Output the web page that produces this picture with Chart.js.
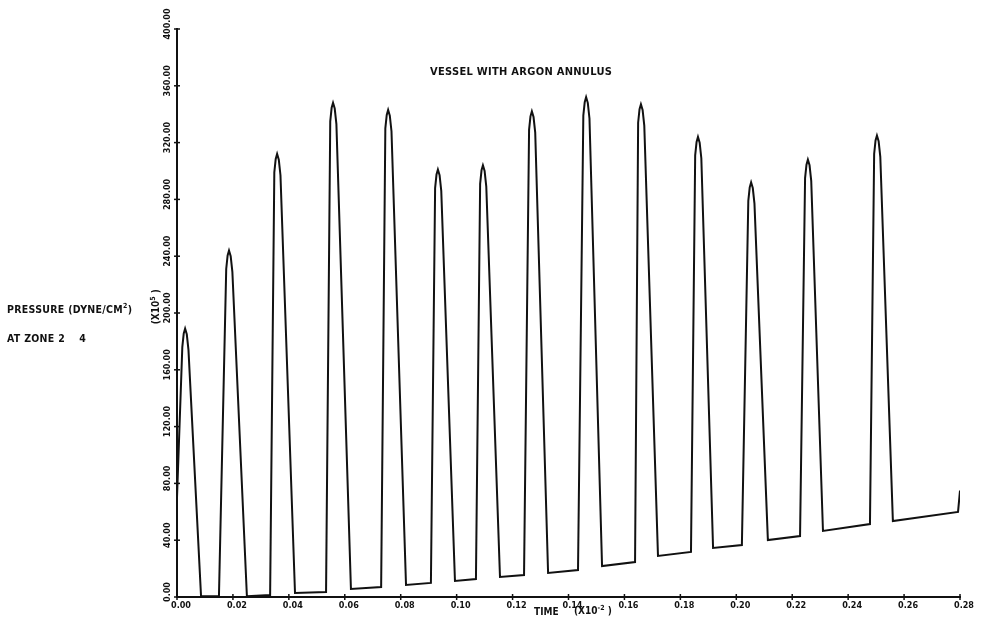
<!DOCTYPE html>
<html>
<head>
<meta charset="utf-8">
<script src="https://cdn.jsdelivr.net/npm/chart.js@4"></script>
<style>
  body { margin: 0; background: #fff; }
  #wrap { position: relative; width: 985px; height: 624px; }
  canvas { position: absolute; left: 0; top: 0; }
  .lbl { position: absolute; font-family: "DejaVu Sans Condensed", "DejaVu Sans", sans-serif; font-weight: bold; color: #111; white-space: nowrap; line-height: 1; }
</style>
</head>
<body>
<div id="wrap">
  <canvas id="chart" width="985" height="624"></canvas>
  <div class="lbl" style="left:430px; top:66px; font-size:11px; letter-spacing:0.3px;">VESSEL WITH ARGON ANNULUS</div>
  <div class="lbl" style="left:7px; top:303px; font-size:10.5px; letter-spacing:0.3px;">PRESSURE (DYNE/CM<sup style="font-size:7px;">2</sup>)</div>
  <div class="lbl" style="left:7px; top:333px; font-size:10.5px; letter-spacing:0.3px;">AT ZONE 2&nbsp;&nbsp;&nbsp;&nbsp;4</div>
  <div class="lbl" style="left:534px; top:607px; font-size:10px;">TIME</div>
  <div class="lbl" style="left:574px; top:605px; font-size:10px;">(X10<sup style="font-size:7px;">-2</sup> )</div>
  <div class="lbl" style="left:138px; top:301px; font-size:10px; transform:rotate(-90deg); transform-origin:center;">(X10<sup style="font-size:7px;">5</sup> )</div>
</div>
<script>
// time (x10^-2) and pressure (x10^5 dyne/cm2), one line per pulse
const timeValues = [0.0000, 0.0019, 0.0024, 0.0029, 0.0035, 0.0041, 0.0086, 0.0150,
  0.0176, 0.0181, 0.0186, 0.0192, 0.0198, 0.0250, 0.0333,
  0.0348, 0.0353, 0.0358, 0.0364, 0.0370, 0.0422, 0.0533,
  0.0548, 0.0553, 0.0558, 0.0564, 0.0570, 0.0622, 0.0730,
  0.0745, 0.0750, 0.0755, 0.0761, 0.0767, 0.0819, 0.0908,
  0.0923, 0.0928, 0.0933, 0.0939, 0.0945, 0.0994, 0.1069,
  0.1084, 0.1089, 0.1094, 0.1100, 0.1106, 0.1155, 0.1241,
  0.1259, 0.1264, 0.1269, 0.1275, 0.1281, 0.1327, 0.1434,
  0.1453, 0.1458, 0.1463, 0.1469, 0.1475, 0.1520, 0.1638,
  0.1649, 0.1654, 0.1659, 0.1665, 0.1671, 0.1720, 0.1838,
  0.1853, 0.1858, 0.1863, 0.1869, 0.1875, 0.1917, 0.2020,
  0.2043, 0.2048, 0.2053, 0.2059, 0.2065, 0.2113, 0.2228,
  0.2246, 0.2251, 0.2256, 0.2262, 0.2268, 0.2310, 0.2478,
  0.2493, 0.2498, 0.2503, 0.2509, 0.2515, 0.2560, 0.2793, 0.2800];
const pressureValues = [70, 176, 185.5, 189, 185, 174, 0.5, 0.5,
  231, 240.5, 244, 240, 229, 0.5, 1.4,
  299, 308.5, 312, 308, 297, 2.8, 3.5,
  335, 344.5, 348, 344, 333, 5.6, 7.0,
  330, 339.5, 343, 339, 328, 8.5, 9.9,
  288, 297.5, 301, 297, 286, 11.3, 12.7,
  291, 300.5, 304, 300, 289, 14.1, 15.5,
  329, 338.5, 342, 338, 327, 16.9, 19.0,
  339, 348.5, 352, 348, 337, 21.8, 24.6,
  334, 343.5, 347, 343, 332, 28.9, 31.7,
  311, 320.5, 324, 320, 309, 34.5, 36.6,
  279, 288.5, 292, 288, 277, 40.1, 42.9,
  295, 304.5, 308, 304, 293, 46.5, 51.4,
  312, 321.5, 325, 321, 310, 53.5, 59.9, 75];

const xTicks = [0, 0.02, 0.04, 0.06, 0.08, 0.10, 0.12, 0.14, 0.16, 0.18, 0.20, 0.22, 0.24, 0.26, 0.28];
const xTickLabels = ['0.00', '0.02', '0.04', '0.06', '0.08', '0.10', '0.12', '0.14', '0.16', '0.18', '0.20', '0.22', '0.24', '0.26', '0.28'];
const yTicks = [0, 40, 80, 120, 160, 200, 240, 280, 320, 360, 400];
const yTickLabels = ['0.00', '40.00', '80.00', '120.00', '160.00', '200.00', '240.00', '280.00', '320.00', '360.00', '400.00'];

const points = timeValues.map((t, i) => ({ x: t, y: pressureValues[i] }));

// tick crosses and plotter-style labels
const axisDecor = {
  id: 'axisDecor',
  afterDraw(chart) {
    const ctx = chart.ctx;
    const xs = chart.scales.x, ys = chart.scales.y;
    const x0 = xs.left, y0 = ys.bottom;
    ctx.save();
    ctx.strokeStyle = '#111';
    ctx.fillStyle = '#111';
    ctx.lineWidth = 1.5;
    ctx.font = 'bold 9px "DejaVu Sans Condensed", "DejaVu Sans", sans-serif';

    xTicks.forEach((v, i) => {
      const px = xs.getPixelForValue(v);
      ctx.beginPath();
      ctx.moveTo(px, y0 - 3);
      ctx.lineTo(px, y0 + 3);
      ctx.stroke();
      ctx.textAlign = 'center';
      ctx.textBaseline = 'middle';
      ctx.fillText(xTickLabels[i], px + 4, y0 + 9);
    });

    yTicks.forEach((v, i) => {
      const py = ys.getPixelForValue(v);
      ctx.beginPath();
      ctx.moveTo(x0 - 3, py);
      ctx.lineTo(x0 + 3, py);
      ctx.stroke();
      ctx.save();
      ctx.translate(x0 - 9, py - 5);
      ctx.rotate(-Math.PI / 2);
      ctx.textAlign = 'center';
      ctx.textBaseline = 'middle';
      ctx.fillText(yTickLabels[i], 0, 0);
      ctx.restore();
    });
    ctx.restore();
  }
};

new Chart(document.getElementById('chart'), {
  type: 'line',
  data: {
    datasets: [{
      data: points,
      borderColor: '#111',
      borderWidth: 2,
      pointRadius: 0,
      tension: 0,
      fill: false
    }]
  },
  options: {
    responsive: false,
    animation: false,
    layout: { padding: { left: 177, right: 25, top: 29, bottom: 27 } },
    plugins: { legend: { display: false }, tooltip: { enabled: false } },
    scales: {
      x: {
        type: 'linear', min: 0, max: 0.28,
        grid: { display: false, drawTicks: false },
        border: { display: true, color: '#111', width: 2 },
        ticks: { display: false }
      },
      y: {
        type: 'linear', min: 0, max: 400,
        grid: { display: false, drawTicks: false },
        border: { display: true, color: '#111', width: 2 },
        ticks: { display: false }
      }
    }
  },
  plugins: [axisDecor]
});
</script>
</body>
</html>
